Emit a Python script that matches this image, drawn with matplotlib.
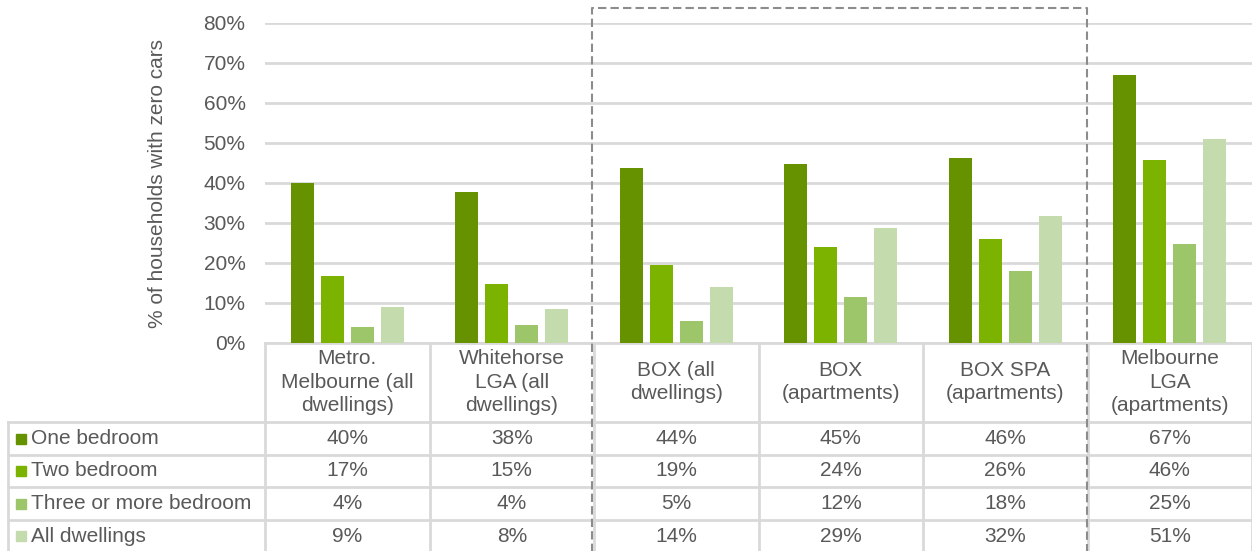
import numpy as np
import matplotlib.pyplot as plt
from matplotlib.patches import Rectangle

plt.rcParams["font.family"] = ["Liberation Sans", "DejaVu Sans"]

categories = ["Metro.\nMelbourne (all\ndwellings)", "Whitehorse\nLGA (all\ndwellings)",
              "BOX (all\ndwellings)", "BOX\n(apartments)", "BOX SPA\n(apartments)",
              "Melbourne\nLGA\n(apartments)"]
series_names = ["One bedroom", "Two bedroom", "Three or more bedroom", "All dwellings"]
one_bed = [40.0, 37.8, 43.8, 44.8, 46.2, 67.0]
two_bed = [16.8, 14.8, 19.4, 24.0, 26.0, 45.8]
three_bed = [4.0, 4.4, 5.4, 11.6, 17.9, 24.8]
all_dwellings = [9.0, 8.4, 14.0, 28.8, 31.8, 51.0]
y_ticks = [0, 10, 20, 30, 40, 50, 60, 70, 80]

colors = ["#669200", "#7cb200", "#9dc66b", "#c4dbad"]
text_col = "#595959"
grid_col = "#d9d9d9"

W, H = 1252, 551
fig = plt.figure(figsize=(W / 100, H / 100), dpi=100)

# main chart area (pixel layout of the reference)
left, right, top, bottom = 265, 1252, 23, 343
ax = fig.add_axes([left / W, 1 - bottom / H, (right - left) / W, (bottom - top) / H])

series = [one_bed, two_bed, three_bed, all_dwellings]
x = np.arange(len(categories))
bw, pitch = 0.14, 0.182
for i, (vals, c) in enumerate(zip(series, colors)):
    ax.bar(x + (i - 1.5) * pitch, vals, width=bw, color=c, zorder=3)

ax.set_xlim(-0.5, len(categories) - 0.5)
ax.set_ylim(0, 80)
ax.set_yticks(y_ticks)
ax.set_yticklabels([f"{t}%" for t in y_ticks])
ax.set_xticks([])
ax.tick_params(axis="y", length=0, pad=14, labelsize=15, labelcolor=text_col)
ax.grid(axis="y", color=grid_col, lw=2, zorder=0)
for s in ["top", "right", "left"]:
    ax.spines[s].set_visible(False)
ax.spines["bottom"].set_color(grid_col)
ax.spines["bottom"].set_linewidth(2)
ax.set_ylabel("% of households with zero cars", fontsize=15, color=text_col)
ax.yaxis.set_label_coords(-0.099, 0.5)

# data table drawn in pixel coordinates
tab = fig.add_axes([0, 0, 1, 1], zorder=5)
tab.set_xlim(0, W)
tab.set_ylim(H, 0)
tab.axis("off")

colw = (right - left) / len(categories)
edges = [left + k * colw for k in range(len(categories) + 1)]
row_lines = [422, 455, 487, 520, 552]
for e in edges:
    tab.plot([e, e], [bottom, H], color=grid_col, lw=2, clip_on=False)
tab.plot([8, 8], [row_lines[0], H], color=grid_col, lw=2, clip_on=False)
for r in row_lines[:-1]:
    tab.plot([8, right], [r, r], color=grid_col, lw=2, clip_on=False)

for k, cat in enumerate(categories):
    cx = left + (k + 0.5) * colw
    tab.text(cx, 382, cat, ha="center", va="center", fontsize=15, color=text_col,
             linespacing=1.3)
    for j, vals in enumerate(series):
        cy = (row_lines[j] + row_lines[j + 1]) / 2
        tab.text(cx, cy, f"{round(vals[k])}%", ha="center", va="center",
                 fontsize=15, color=text_col)

for j, name in enumerate(series_names):
    cy = (row_lines[j] + row_lines[j + 1]) / 2
    tab.add_patch(Rectangle((16, cy - 5), 10, 10, color=colors[j]))
    tab.text(31, cy, name, ha="left", va="center", fontsize=15, color=text_col)

# dashed highlight box around the BOX columns (open at the bottom)
tab.plot([592, 592, 1087, 1087], [H + 10, 8, 8, H + 10], color="#8c8c8c",
         lw=1.5, ls=(0, (4, 2)), clip_on=False)

fig.savefig("out.png", dpi=100)
